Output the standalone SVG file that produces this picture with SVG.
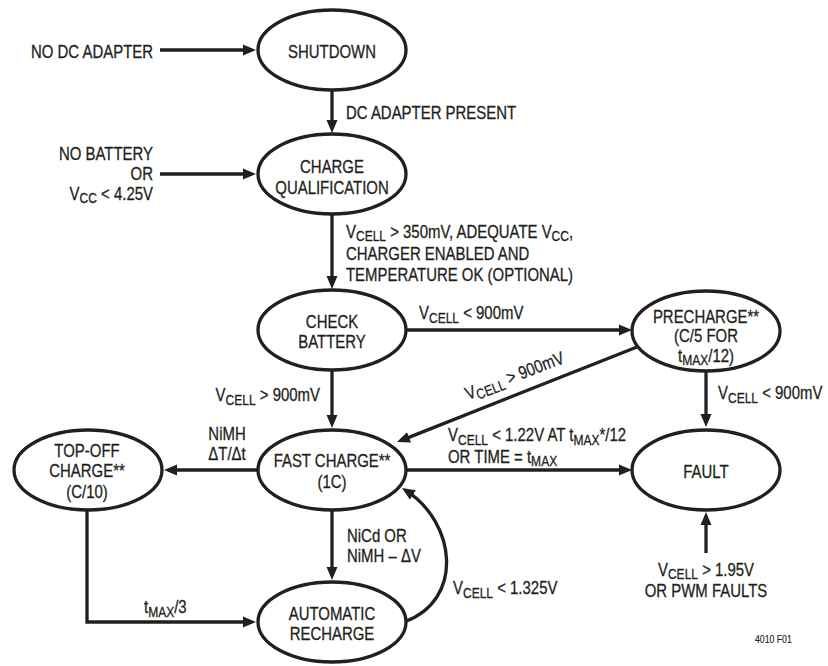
<svg xmlns="http://www.w3.org/2000/svg" width="828" height="666" viewBox="0 0 828 666">
<style>
.n{fill:#fff;stroke:#231f20;stroke-width:3.3}
.c{fill:none;stroke:#231f20;stroke-width:3.3}
text{font-family:"Liberation Sans",Arial,sans-serif;font-size:18px;fill:#231f20;stroke:#231f20;stroke-width:0.3}
.m{text-anchor:middle}
.e{text-anchor:end}
.s{font-size:14.5px}
.sm{font-size:10.5px;stroke-width:0.15}
</style>
<defs>
<marker id="ah" markerUnits="userSpaceOnUse" markerWidth="14" markerHeight="12" viewBox="0 0 14 12" refX="9" refY="6" orient="auto"><path d="M0,0.5 L13,6 L0,11.5 z" fill="#231f20"/></marker>
</defs>
<rect width="828" height="666" fill="#fff"/>
<g id="connectors">
<path class="c" d="M160,50 H252" marker-end="url(#ah)"/>
<path class="c" d="M160,174 H252" marker-end="url(#ah)"/>
<path class="c" d="M332,90 V129" marker-end="url(#ah)"/>
<path class="c" d="M332,214 V285" marker-end="url(#ah)"/>
<path class="c" d="M406,330 H628" marker-end="url(#ah)"/>
<path class="c" d="M332,370 V424" marker-end="url(#ah)"/>
<path class="c" d="M706,371 V423" marker-end="url(#ah)"/>
<path class="c" d="M637,347 L400.7,440.6" marker-end="url(#ah)"/>
<path class="c" d="M258,470 H168" marker-end="url(#ah)"/>
<path class="c" d="M406,470 H628" marker-end="url(#ah)"/>
<path class="c" d="M332,510 V576" marker-end="url(#ah)"/>
<path class="c" d="M706,553 V516" marker-end="url(#ah)"/>
<path class="c" d="M87,510 V622 H252" marker-end="url(#ah)"/>
<path class="c" d="M404,622 C465,600 456,522 405.3,490.2" marker-end="url(#ah)"/>
<text class="e" transform="translate(153,58) scale(.83,1)">NO DC ADAPTER</text>
<text transform="translate(346,119) scale(.83,1)">DC ADAPTER PRESENT</text>
<text class="e" transform="translate(153,160) scale(.83,1)"><tspan x="0">NO BATTERY</tspan><tspan x="0" dy="20">OR</tspan><tspan x="0" dy="20">V</tspan><tspan class="s" dy="3.5">CC</tspan><tspan dy="-3.5"> &lt; 4.25V</tspan></text>
<text transform="translate(346,238) scale(.83,1)"><tspan x="0">V</tspan><tspan class="s" dy="3">CELL</tspan><tspan dy="-3"> &gt; 350mV, ADEQUATE V</tspan><tspan class="s" dy="3">CC</tspan><tspan dy="-3">,</tspan><tspan x="0" dy="22">CHARGER ENABLED AND</tspan><tspan x="0" dy="21">TEMPERATURE OK (OPTIONAL)</tspan></text>
<text transform="translate(419,319) scale(.83,1)">V<tspan class="s" dy="3.5">CELL</tspan><tspan dy="-3.5"> &lt; 900mV</tspan></text>
<text transform="translate(718,399) scale(.83,1)">V<tspan class="s" dy="3.5">CELL</tspan><tspan dy="-3.5"> &lt; 900mV</tspan></text>
<text transform="translate(468,400) rotate(-21) scale(.83,1)">V<tspan class="s" dy="3.5">CELL</tspan><tspan dy="-3.5"> &gt; 900mV</tspan></text>
<text class="e" transform="translate(320,401) scale(.83,1)">V<tspan class="s" dy="3.5">CELL</tspan><tspan dy="-3.5"> &gt; 900mV</tspan></text>
<text class="m" transform="translate(227,440) scale(.83,1)"><tspan x="0">NiMH</tspan><tspan x="0" dy="20">ΔT/Δt</tspan></text>
<text transform="translate(448,441) scale(.83,1)"><tspan x="0">V</tspan><tspan class="s" dy="3.5">CELL</tspan><tspan dy="-3.5"> &lt; 1.22V AT t</tspan><tspan class="s" dy="3.5">MAX</tspan><tspan dy="-3.5">*/12</tspan><tspan x="0" dy="22">OR TIME = t</tspan><tspan class="s" dy="3.5">MAX</tspan></text>
<text transform="translate(347,542) scale(.83,1)"><tspan x="0">NiCd OR</tspan><tspan x="0" dy="20">NiMH – ΔV</tspan></text>
<text transform="translate(453,594) scale(.83,1)">V<tspan class="s" dy="3.5">CELL</tspan><tspan dy="-3.5"> &lt; 1.325V</tspan></text>
<text transform="translate(144,613) scale(.83,1)">t<tspan class="s" dy="3.5">MAX</tspan><tspan dy="-3.5">/3</tspan></text>
<text class="m" transform="translate(706,576) scale(.83,1)"><tspan x="0">V</tspan><tspan class="s" dy="3">CELL</tspan><tspan dy="-3"> &gt; 1.95V</tspan><tspan x="0" dy="21.5">OR PWM FAULTS</tspan></text>
</g>
<g id="shutdown"><ellipse class="n" cx="332" cy="50" rx="74" ry="40"/><text class="m" transform="translate(332,58) scale(.83,1)">SHUTDOWN</text></g>
<g id="charge-qualification"><ellipse class="n" cx="332" cy="174" rx="74" ry="40"/><text class="m" transform="translate(332,173) scale(.83,1)"><tspan x="0">CHARGE</tspan><tspan x="0" dy="21">QUALIFICATION</tspan></text></g>
<g id="check-battery"><ellipse class="n" cx="332" cy="330" rx="74" ry="40"/><text class="m" transform="translate(332,328) scale(.83,1)"><tspan x="0">CHECK</tspan><tspan x="0" dy="20">BATTERY</tspan></text></g>
<g id="precharge"><ellipse class="n" cx="706" cy="331" rx="74" ry="40"/><text class="m" transform="translate(706,323) scale(.83,1)"><tspan x="0">PRECHARGE**</tspan><tspan x="0" dy="19.5">(C/5 FOR</tspan><tspan x="0" dy="19.5">t</tspan><tspan class="s" dy="3.5">MAX</tspan><tspan dy="-3.5">/12)</tspan></text></g>
<g id="fast-charge"><ellipse class="n" cx="332" cy="470" rx="74" ry="40"/><text class="m" transform="translate(332,467) scale(.83,1)"><tspan x="0">FAST CHARGE**</tspan><tspan x="0" dy="21">(1C)</tspan></text></g>
<g id="top-off"><ellipse class="n" cx="88" cy="470" rx="74" ry="40"/><text class="m" transform="translate(87,457) scale(.83,1)"><tspan x="0">TOP-OFF</tspan><tspan x="0" dy="20.5">CHARGE**</tspan><tspan x="0" dy="20.5">(C/10)</tspan></text></g>
<g id="fault"><ellipse class="n" cx="706" cy="470" rx="74" ry="40"/><text class="m" transform="translate(706,478) scale(.83,1)">FAULT</text></g>
<g id="automatic-recharge"><ellipse class="n" cx="332" cy="622" rx="74" ry="40"/><text class="m" transform="translate(332,620) scale(.83,1)"><tspan x="0">AUTOMATIC</tspan><tspan x="0" dy="20">RECHARGE</tspan></text></g>
<text class="sm" transform="translate(755,643) scale(.83,1)">4010 F01</text>
</svg>
